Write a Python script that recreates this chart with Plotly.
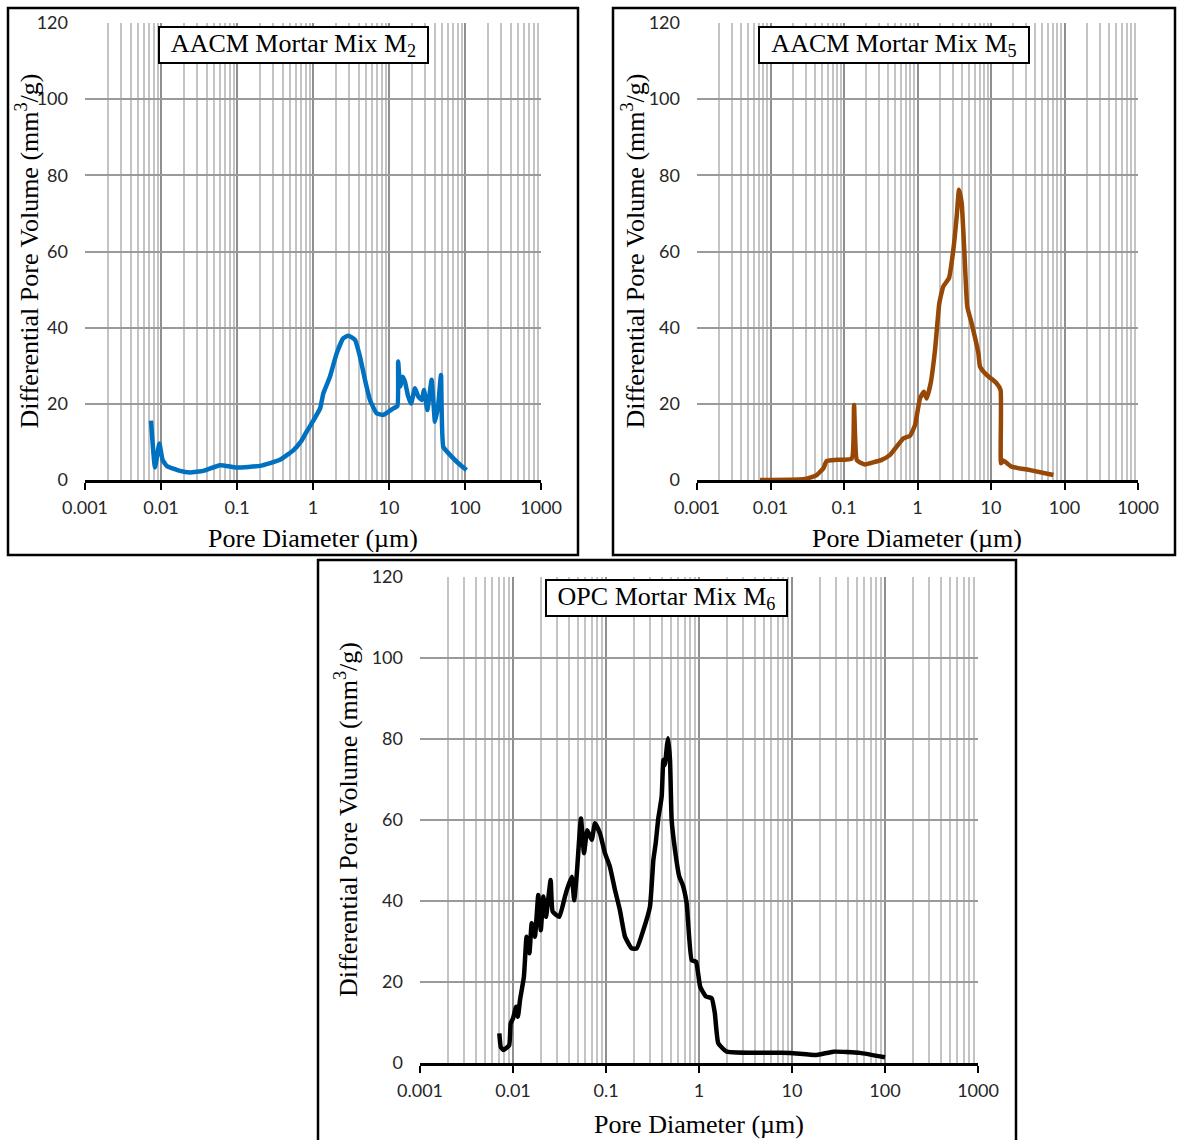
import plotly.graph_objects as go

# ---------------- data ----------------
m2_d = [0.00738, 0.00834, 0.0095, 0.0105, 0.0119, 0.0178, 0.0241, 0.036, 0.0597, 0.099,
        0.201, 0.368, 0.55, 0.70, 0.83, 1.01, 1.24, 1.37, 1.67, 2.05,
        2.5, 2.92, 3.57, 4.15, 4.83, 5.62, 6.88, 8.42, 11.4, 12.9,
        13.2, 14.0, 15.1, 16.2, 17.9, 19.5, 22.0, 24.3, 26.9, 28.9,
        31.9, 36.4, 40.3, 44.6, 48.3, 51.8, 63.5, 81.7, 105]
m2_v = [15.6, 3.3, 9.6, 5.3, 3.7, 2.4, 2.0, 2.4, 3.9, 3.3,
        3.7, 5.3, 7.8, 10.2, 12.8, 15.6, 18.8, 22.8, 27.1, 33.3,
        37.2, 37.9, 36.8, 32.4, 26.3, 21.0, 17.5, 17.1, 18.8, 19.4,
        31.1, 24.5, 27.1, 25.8, 21.9, 20.1, 24.1, 21.9, 21.0, 23.6,
        18.4, 26.3, 15.3, 20.1, 27.6, 8.7, 6.6, 4.4, 2.6]

m5_d = [0.0072, 0.028, 0.038, 0.0426, 0.0525, 0.058, 0.079, 0.127, 0.137, 0.149,
        0.174, 0.193, 0.326, 0.423, 0.641, 0.79, 0.925, 1.08, 1.22, 1.33,
        1.51, 1.73, 1.98, 2.24, 2.68, 3.07, 3.41, 3.67, 3.99, 4.33,
        4.76, 5.46, 6.73, 7.08, 8.73, 11.9, 13.5, 13.7, 14.7, 19.1,
        34, 70.6]
m5_v = [0.0, 0.2, 0.9, 1.3, 3.1, 5.0, 5.3, 5.6, 19.7, 5.3,
        4.4, 4.1, 5.3, 6.6, 10.9, 11.6, 14.4, 21.4, 23.2, 21.4,
        25.4, 34.1, 46.4, 50.8, 53.0, 60.4, 69.1, 76.2, 72.7, 60.4,
        45.5, 41.1, 33.3, 29.8, 27.6, 25.4, 23.6, 4.4, 5.1, 3.5,
        2.6, 1.3]

m6_d = [0.00713, 0.00738, 0.00787, 0.0091, 0.00944, 0.01, 0.0108, 0.0113, 0.0119, 0.0131,
        0.014, 0.015, 0.0159, 0.0172, 0.0187, 0.0199, 0.0212, 0.0226, 0.0254, 0.0267,
        0.0315, 0.0362, 0.0384, 0.0428, 0.0455, 0.0484, 0.0538, 0.058, 0.0629, 0.0702,
        0.0762, 0.0861, 0.0975, 0.11, 0.125, 0.141, 0.16, 0.189, 0.214, 0.252,
        0.297, 0.323, 0.342, 0.365, 0.397, 0.414, 0.43, 0.453, 0.465, 0.488,
        0.508, 0.552, 0.614, 0.668, 0.737, 0.834, 0.929, 1.03, 1.19, 1.37,
        1.48, 1.61, 1.99, 9.5, 18.4, 27.8, 53.8, 100]
m6_v = [7.3, 4.0, 3.2, 4.4, 9.8, 11.0, 13.9, 11.4, 15.6, 21.3,
        31.2, 27.1, 34.5, 31.2, 41.5, 32.8, 41.1, 36.1, 45.2, 37.4,
        36.1, 41.1, 43.1, 46.0, 40.2, 46.4, 60.4, 51.8, 57.5, 55.1,
        59.2, 56.7, 51.8, 48.5, 42.7, 37.8, 31.2, 28.3, 28.3, 32.8,
        38.6, 50.1, 54.2, 60.4, 65.8, 74.8, 73.6, 78.5, 80.2, 74.8,
        60.0, 52.6, 46.0, 44.0, 39.4, 25.4, 25.0, 18.8, 16.4, 16.0,
        12.3, 4.9, 2.8, 2.5, 2.0, 2.8, 2.5, 1.4]

x_tickvals = [0.001, 0.01, 0.1, 1, 10, 100, 1000]
x_ticktext = ["0.001", "0.01", "0.1", "1", "10", "100", "1000"]
x_minor = [m * 10.0 ** k for k in range(-3, 3) for m in range(2, 10)]
y_tickvals = [0, 20, 40, 60, 80, 100, 120]

titles = ["AACM Mortar Mix M<sub>2</sub>", "AACM Mortar Mix M<sub>5</sub>", "OPC Mortar Mix M<sub>6</sub>"]
colors = ["#0070C0", "#974706", "#000000"]
x_title = "Pore Diameter (\u00b5m)"
y_title = "Differential Pore Volume (mm<sup>3</sup>/g)"

# ---------------- layout geometry (pixels) ----------------
W, H = 1182, 1140
def px(x):
    return x / W
def py(y):
    return 1 - y / H

# plot areas: (left, right, top, bottom) in pixels
areas = [(85, 541, 23, 480), (697, 1138, 23, 480), (420, 978, 577, 1063)]
frames = [(8, 578, 8, 555), (613, 1175, 8, 555), (318, 1016, 560, 1150)]
title_boxes = [(293.5, 45, 263), (894, 45, 264), (666.5, 597.5, 235)]
ytitle_pos = [(28, 251.5), (634, 251.5), (346, 820)]
xtitle_pos = [(313, 538), (917, 538), (699, 1124)]

series = [(m2_d, m2_v), (m5_d, m5_v), (m6_d, m6_v)]

fig = go.Figure()
layout = dict(
    width=W, height=H, margin=dict(l=0, r=0, t=0, b=0, autoexpand=False),
    paper_bgcolor="white", plot_bgcolor="white", showlegend=False,
)
shapes = []
annotations = []

tick_font = dict(family="Lato, Carlito, sans-serif", size=18, color="#262626")
serif = "Liberation Serif, Times New Roman, serif"
tsize = 26

for i, ((d, v), col, area, frame) in enumerate(zip(series, colors, areas, frames)):
    xa = "x" if i == 0 else f"x{i+1}"
    ya = "y" if i == 0 else f"y{i+1}"
    fig.add_trace(go.Scatter(x=d, y=v, mode="lines", xaxis=xa, yaxis=ya,
                             line=dict(color=col, width=4.5, shape="spline", smoothing=0.4),
                             hoverinfo="skip"))
    l, r, t, b = area
    xkey = "xaxis" if i == 0 else f"xaxis{i+1}"
    ykey = "yaxis" if i == 0 else f"yaxis{i+1}"
    layout[xkey] = dict(
        type="log", range=[-3, 3], domain=[px(l), px(r)], anchor=ya, automargin=False,
        tickmode="array", tickvals=x_tickvals, ticktext=x_ticktext,
        showgrid=True, gridcolor="#8f8f8f", gridwidth=1.5,
        minor=dict(tickmode="array", tickvals=x_minor, showgrid=True,
                   gridcolor="#c4c4c4", gridwidth=1.5, ticks=""),
        showline=True, linecolor="black", linewidth=3,
        ticks="outside", ticklen=7, tickwidth=2, tickcolor="black",
        tickfont=tick_font, ticklabelstandoff=2, zeroline=False,
    )
    layout[ykey] = dict(
        range=[0, 120], domain=[py(b), py(t)], anchor=xa, automargin=False,
        tickmode="array", tickvals=y_tickvals,
        showgrid=True, gridcolor="#9a9a9a", gridwidth=1.5,
        showline=False, zeroline=False, ticks="",
        tickfont=tick_font, ticklabelstandoff=16,
    )
    fl, fr, ft, fb = frame
    shapes.append(dict(type="rect", xref="paper", yref="paper",
                       x0=px(fl), x1=px(fr), y0=py(fb), y1=py(ft),
                       line=dict(color="black", width=2.5), layer="above"))
    cx, cy, w = title_boxes[i]
    annotations.append(dict(xref="paper", yref="paper", x=px(cx), y=py(cy),
                            xanchor="center", yanchor="middle", text=titles[i],
                            showarrow=False, font=dict(family=serif, size=tsize, color="black"),
                            bgcolor="white", bordercolor="black", borderwidth=2,
                            borderpad=2, width=w, height=30))
    yx, yy = ytitle_pos[i]
    annotations.append(dict(xref="paper", yref="paper", x=px(yx), y=py(yy),
                            xanchor="center", yanchor="middle", text=y_title, textangle=-90,
                            showarrow=False, font=dict(family=serif, size=tsize, color="black")))
    xx, xy = xtitle_pos[i]
    annotations.append(dict(xref="paper", yref="paper", x=px(xx), y=py(xy),
                            xanchor="center", yanchor="middle", text=x_title,
                            showarrow=False, font=dict(family=serif, size=tsize, color="black")))

layout["shapes"] = shapes
layout["annotations"] = annotations
fig.update_layout(**layout)
fig.write_html("out.html")
